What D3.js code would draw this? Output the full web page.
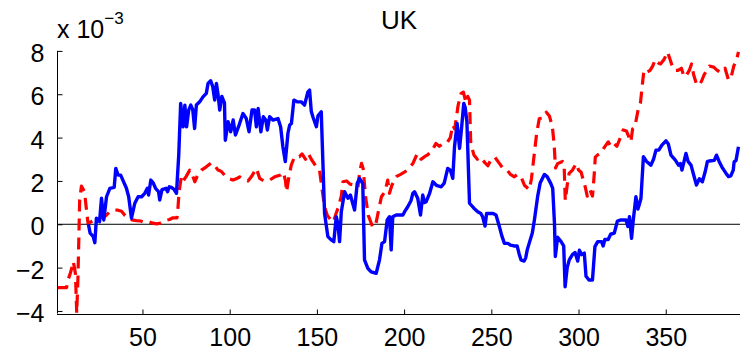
<!DOCTYPE html>
<html><head><meta charset="utf-8">
<script src="https://cdn.jsdelivr.net/npm/d3@7"></script>
<style>body{margin:0;background:#fff}svg{display:block}text{font-family:"Liberation Sans",Arial,Helvetica,sans-serif;fill:#000}</style>
</head><body>
<script>
const title = "UK";
const xTicks = [50, 100, 150, 200, 250, 300, 350];
const yTicks = [-4, -2, 0, 2, 4, 6, 8];
const xDomain = [1, 392];
const yDomain = [-4.14, 8];

const blueX = [19,20,21.7,22.7,23.6,25.4,26.5,27.8,29.4,31.3,33.8,34.7,36,37.5,38.7,40.8,42.1,43.7,45.6,47.5,49.5,51.3,52.8,53.5,54.8,56.2,57.5,59.2,59.9,61.2,63.5,64.4,65.4,66.6,68.1,69.5,70.8,71.9,73.3,74.3,75.3,76.5,77.7,78.8,79.9,80.9,82.8,84.7,86.6,87.6,89.1,90.3,91.4,92.4,93.3,94.3,95.5,97,97.5,99.1,100.6,102,103.3,105.5,107.6,109.5,111.1,112.8,114.3,115.3,116.3,117.9,119.3,120.7,121.6,122.9,124.8,127.7,129.2,130.5,131.9,133.4,134.4,135.4,136.8,138.7,141,142.9,144.8,145.8,146.8,147.7,149.7,150.6,152.5,153.4,154.4,156.3,158.2,159.7,161.1,162.1,163,164,165.9,167.8,169.2,171.6,173.1,174.4,176.3,177.3,179.2,181.1,184,185.9,187.3,188.8,190.3,191.6,192.6,193.5,195.5,197.4,199.3,200.3,202.1,204,205,206,207.8,209.4,210.7,211.7,212.6,214.5,216.5,218.5,221.3,223,225,226.5,227.9,228.9,230.4,231.8,233,234.2,235,236,237.5,240,242.2,244,245,246.4,247.3,249.5,251,252.7,254.6,255.9,257.5,259.5,261,263,264.8,266,267,268.8,269.7,270.6,272,273.5,274.7,276.6,278,280.4,282,284,285.2,286.2,286.7,288,290,291.5,292.3,293.5,294.7,296.5,298,299.5,300.5,301.8,303.3,304.3,306,308,309.4,311,313.2,314.1,315.1,317,318.4,320.5,322.3,324.3,327.2,328.3,329.2,330.4,331.4,332.9,334,334.8,335.8,337.2,339,341.5,343,344.4,346,347.8,350.1,351.5,353,355.5,357.3,358.4,359.3,360.5,361.6,362.8,364.5,366.3,367.6,369.3,371,372.6,373.9,375.9,377.8,379.1,380.6,382.5,384.4,386,387.3,388.7,389.2,390.3,391.7];
const blueV = [0,-0.41,-0.56,-0.85,0.28,0.12,1.2,0.2,1.27,1.66,1.7,2.58,2.27,2.27,2.05,1.66,1.27,0.28,0.97,1.27,1.27,1.43,1.66,1.35,2.04,1.9,1.66,1.51,1.12,1.6,1.66,1.5,1.73,1.7,1.61,1.43,3.2,5.58,4.5,5.5,4.5,5.27,5.5,5.3,4.42,5.5,5.65,5.88,6.04,6.5,6.62,6.35,5.73,6.5,6.0,5.27,5.9,5.6,3.88,4.73,4.27,4.81,4.12,4.6,5.11,4.88,4.27,5.27,5.27,4.5,5.34,4.27,4.96,4.81,4.35,4.96,4.81,4.88,4.5,3.58,2.89,4.2,4.58,4.65,5.73,5.65,5.65,5.5,6.1,6.19,5.2,4.96,4.5,5.0,5.19,2.96,0.5,-0.57,-0.72,-0.8,0.35,0.0,-0.8,0.58,1.5,1.2,1.35,0.66,1.88,2.12,1.88,-1.64,-2.03,-2.2,-2.26,-1.64,-0.88,-0.8,0.2,0.35,-1.18,0.35,0.43,0.43,0.43,0.58,0.81,1.1,1.43,1.5,1.2,0.43,1.35,1.0,1.04,1.4,1.96,1.8,1.73,1.9,2.58,2.5,2.12,3.58,4.65,3.5,4.5,5.58,5.4,4.73,0.97,0.74,0.58,0.5,0.35,-0.08,0.5,0.5,0.5,0.43,-0.1,-0.5,-0.88,-0.88,-0.96,-1.0,-1.0,-1.38,-1.64,-1.7,-1.55,-1.18,-0.8,-0.4,0.2,1.3,1.9,2.3,2.2,1.9,1.66,0.05,-1.49,-0.6,-0.8,-1.0,-2.88,-2.0,-1.64,-1.4,-1.3,-1.7,-1.2,-1.4,-1.33,-2.4,-2.57,-2.57,-1.03,-0.8,-0.8,-1.0,-0.7,-0.7,-0.46,-0.41,0.15,0.2,0.2,-0.1,0.35,-0.65,0.2,1.27,0.7,0.9,1.2,3.12,2.9,2.73,3.0,3.42,3.42,3.65,3.85,3.7,3.19,2.96,2.73,2.8,2.5,2.9,3.27,2.9,2.73,2.19,1.81,2.1,1.96,2.42,2.9,2.93,2.95,3.19,2.9,2.6,2.37,2.2,2.23,2.5,2.88,2.95,3.58];

const redX = [1,6.5,7,8.5,9.7,10.3,11,11.6,12.3,13,13.5,14,15,16.8,17.7,18.8,20,23,26,28.4,31,34,36,38,40,42,44,46.5,49,51.3,54,56,58,60.5,62.8,65.5,67.5,69.8,70.3,71,72.3,73.3,75,77.1,78.5,80,81.8,83.8,86.6,89.5,91.5,93.3,95,97.1,99.5,101.9,103.8,105.7,108.6,110.5,112.5,115.3,117.2,119.5,122.9,125.8,129.2,130.8,132,132.6,134,135.3,137.2,140,141.5,143.5,145,146.8,149.7,151.5,153,154.4,156,158,159.5,161,162.1,164,164.9,167,169,172,173.5,174.5,175.6,176.5,178,179.5,181.9,183.5,185,187,189,190.6,191.6,193,195.5,198,202,205,207.6,208.8,209.8,211.7,213.5,216,218.2,220.2,222,224.5,226.5,227.9,229,231,232.7,234,235.5,236.5,237.5,238.2,240,242,244,245.9,248,250,252,254.6,256.5,259,261,263.2,265,267,269,271.8,273,274.7,276,277.5,279.5,281.5,283.3,285,286,286.8,288,290.8,291.8,292.4,293.5,294.6,296.5,298.7,300,301.5,303.9,305,306.5,308,309,309.6,311,313,314.8,317,318.5,320,322,324,325.6,327.5,329,330,331,332.3,334.2,335.5,336.8,337.5,339,341,342.5,344,345.5,347,349,351,352.5,353.5,355,357,359,360.5,362,363.5,364.8,366,367.5,369,370.5,372,373.5,375,377.5,379.5,381.5,384,386,387.5,389,390.3,391.7];
const redV = [-2.92,-2.92,-2.64,-2.3,-1.95,-1.72,-2.0,-2.3,-4.1,-2.5,-0.73,1.12,1.76,1.5,0.81,0.03,0.1,0.2,0.3,0.35,0.55,0.66,0.65,0.6,0.4,0.3,0.2,0.17,0.15,0.08,0.1,0.05,0.02,0.05,0.17,0.22,0.3,0.3,0.7,1.5,2.2,2.0,2.2,2.5,2.3,1.96,2.3,2.5,2.65,2.84,2.7,2.5,2.45,2.27,2.1,2.04,2.1,2.19,2.04,2.0,2.2,2.58,2.12,2.0,2.04,2.19,2.27,2.4,2.0,1.5,2.2,2.73,3.12,3.12,3.25,3.0,3.27,3.0,2.65,2.5,1.6,0.81,0.4,0.2,0.1,0.5,0.74,1.3,1.96,2.0,1.85,1.81,1.7,2.4,2.81,2.58,1.2,0.4,-0.11,-0.1,0.5,1.27,1.5,2.04,1.43,1.8,2.2,2.3,2.5,2.8,3.27,3.1,3.0,3.12,3.2,3.4,3.73,3.6,3.7,3.75,4.0,4.58,4.4,5.5,6.04,6.1,5.6,5.9,5.73,3.74,3.2,3.0,3.1,2.88,2.7,3.0,3.1,2.81,2.6,2.5,2.3,2.19,2.3,2.2,1.8,1.6,2.1,3.3,4.2,4.88,4.9,5.17,5.0,4.5,3.7,2.6,2.8,2.9,2.6,1.1,1.8,2.35,2.5,2.8,2.5,2.4,1.7,1.3,1.6,1.3,2.3,3.1,3.2,3.3,3.55,3.8,3.6,3.74,3.6,4.0,4.35,4.3,4.0,3.8,4.4,4.5,5.3,5.6,6.6,7.1,7.0,7.1,7.3,7.6,7.45,7.4,7.6,7.95,7.6,7.35,7.1,7.1,7.2,6.8,6.9,7.1,7.4,6.9,6.5,6.4,6.6,6.9,7.1,7.3,7.25,7.1,7.0,7.2,6.65,6.8,7.3,7.5,7.95];

const W = 740, H = 353;
const FONT = '"Liberation Sans",Arial,sans-serif';
const svg = d3.select("body").append("svg").attr("width", W).attr("height", H);
const x = d3.scaleLinear().domain(xDomain).range([57, 739]);
const y = d3.scaleLinear().domain(yDomain).range([314, 50.9]);

svg.append("defs").append("clipPath").attr("id", "clip")
  .append("rect").attr("x", 57).attr("y", 40).attr("width", W - 57).attr("height", 276);

const plot = svg.append("g").attr("clip-path", "url(#clip)");
plot.append("line").attr("x1", x(xDomain[0])).attr("x2", W).attr("y1", y(0)).attr("y2", y(0))
  .attr("stroke", "#000").attr("stroke-width", 1);

const line = d3.line().x(d => x(d[0])).y(d => y(d[1]));
const redData = redX.map((v, i) => [v, redV[i]]);
const blueData = blueX.map((v, i) => [v, blueV[i]]);
plot.append("path").datum(redData).attr("d", line).attr("fill", "none")
  .attr("stroke", "#ff0000").attr("stroke-width", 3.2).attr("stroke-dasharray", "12,7")
  .attr("stroke-linejoin", "round");
plot.append("path").datum(blueData).attr("d", line).attr("fill", "none")
  .attr("stroke", "#0000ff").attr("stroke-width", 3.4).attr("stroke-linejoin", "round");

// axes
const yAxis = d3.axisLeft(y).tickValues(yTicks).tickSizeInner(-5).tickSizeOuter(0).tickPadding(13)
  .tickFormat(d => d < 0 ? "\u2212" + Math.abs(d) : String(d));
const gy = svg.append("g").attr("transform", "translate(57.5,0)").call(yAxis);
const xAxis = d3.axisBottom(x).tickValues(xTicks).tickSizeInner(-5).tickSizeOuter(0).tickPadding(18);
const gx = svg.append("g").attr("transform", "translate(0,314.5)").call(xAxis);
[gx, gy].forEach(g => {
  g.select(".domain").attr("stroke", "#000").attr("stroke-width", 1);
  g.selectAll(".tick line").attr("stroke", "#000");
  g.selectAll("text").attr("font-size", 25).attr("font-family", FONT).attr("fill", "#000");
});
gx.select(".domain").attr("d", `M57,0H${W}`);
gy.select(".domain").attr("d", `M0,${y(yDomain[0]) - 0.5}V${y(8)}`);
gy.selectAll("text").attr("dy", "0.42em");
gx.selectAll("text").attr("dy", "0.55em");

// exponent label
const ex = svg.append("text").attr("x", 57).attr("y", 38).attr("font-size", 25);
ex.append("tspan").text("x 10");
ex.append("tspan").attr("font-size", 17).attr("dy", -14).text("\u22123");

svg.append("text").attr("x", 399).attr("y", 29).attr("text-anchor", "middle").attr("font-size", 26).text(title);
</script>
</body></html>
